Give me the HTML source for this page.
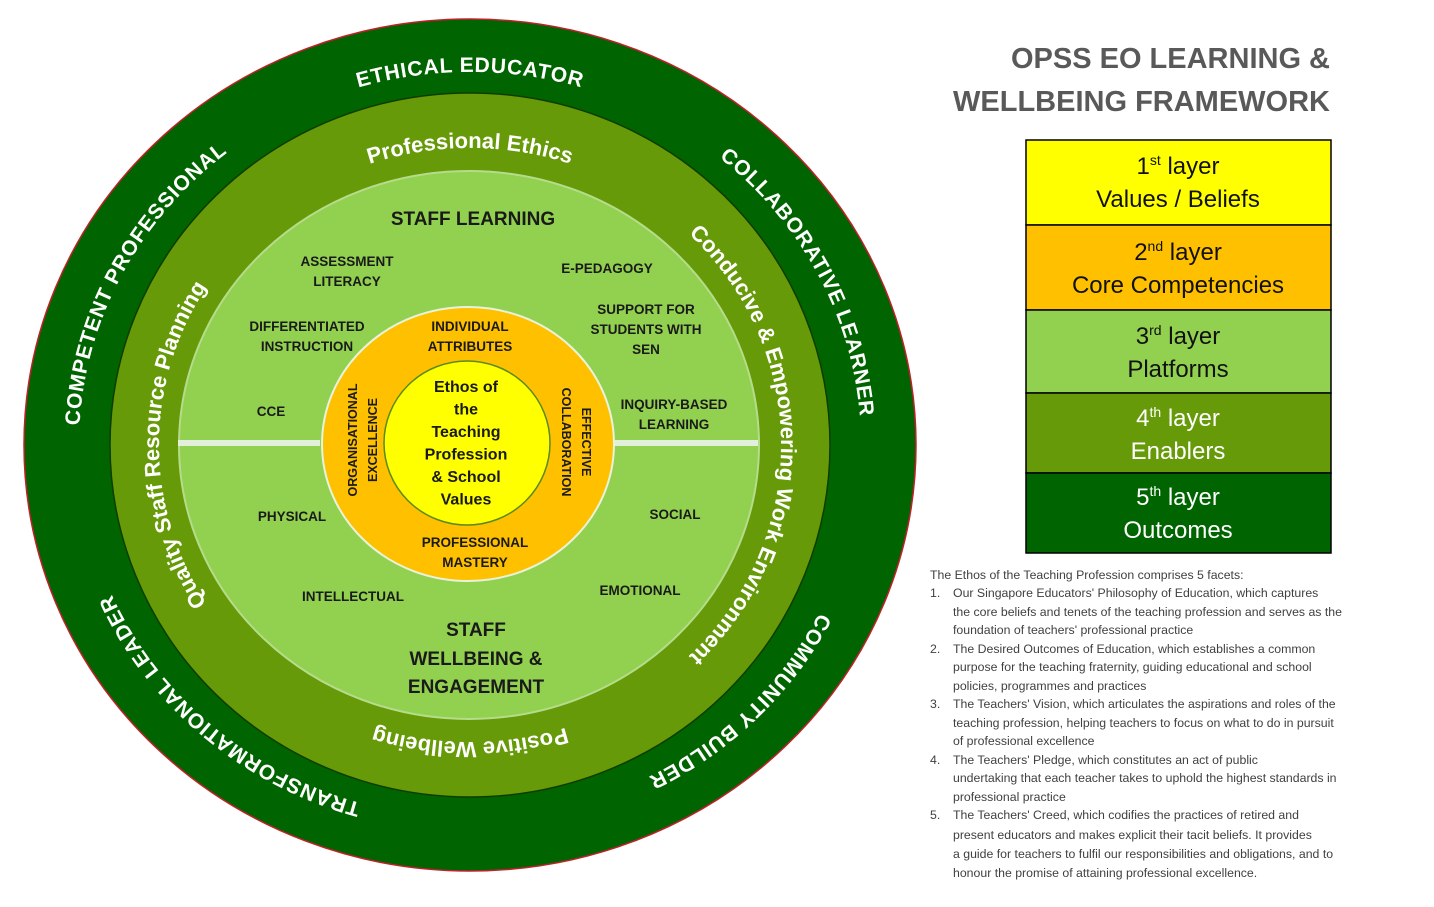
<!DOCTYPE html>
<html><head><meta charset="utf-8"><style>
html,body{margin:0;padding:0;background:#fff;width:1434px;height:907px;overflow:hidden}
svg{display:block;font-family:"Liberation Sans",sans-serif}
.c{font-weight:bold;fill:#1a1a1a;font-size:13.5px;text-anchor:middle}
.lg{font-size:24px;text-anchor:middle;fill:#111}
.p{font-size:12.3px;fill:#404040}
</style></head><body>
<svg width="1434" height="907" viewBox="0 0 1434 907">
<defs>
<path id="outerB" d="M470,818 A391,373 0 1 1 470,72 A391,373 0 1 1 470,818"/>
<path id="ringB" d="M470,742 A311,297 0 1 1 470,148 A311,297 0 1 1 470,742"/>
<path id="ringT" d="M470,148 A311,297 0 1 1 470,742 A311,297 0 1 1 470,148"/>
</defs>
<g>
<ellipse cx="470" cy="445" rx="446" ry="426" fill="#006400" stroke="#c0202a" stroke-width="1.5"/>
<ellipse cx="470" cy="445" rx="360" ry="352" fill="#669a08" stroke="#0f3d00" stroke-width="1.5"/>
<ellipse cx="469" cy="445" rx="290" ry="274" fill="#92d050" stroke="#b5dc8a" stroke-width="2"/>
<rect x="178" y="440" width="142" height="6" fill="#e2efda"/>
<rect x="612" y="440" width="146" height="6" fill="#e2efda"/>
<ellipse cx="468" cy="444" rx="146" ry="137" fill="#ffc000" stroke="#e8f3dd" stroke-width="2"/>
<ellipse cx="467" cy="443" rx="83" ry="82" fill="#ffff00" stroke="#5a8a1a" stroke-width="1.5"/>

<g fill="#fff" font-weight="bold" font-size="21px" letter-spacing="0.8">
<text><textPath href="#outerB" startOffset="50%" text-anchor="middle">ETHICAL EDUCATOR</textPath></text>
<text><textPath href="#outerB" startOffset="67.5%" text-anchor="middle">COLLABORATIVE LEARNER</textPath></text>
<text><textPath href="#outerB" startOffset="87.3%" text-anchor="middle">COMMUNITY BUILDER</textPath></text>
<text><textPath href="#outerB" startOffset="11.6%" text-anchor="middle">TRANSFORMATIONAL LEADER</textPath></text>
<text><textPath href="#outerB" startOffset="32.5%" text-anchor="middle">COMPETENT PROFESSIONAL</textPath></text>
</g>
<g fill="#fff" font-weight="bold" font-size="22px">
<text><textPath href="#ringB" startOffset="50%" text-anchor="middle">Professional Ethics</textPath></text>
<text><textPath href="#ringB" startOffset="75%" text-anchor="middle">Conducive &amp; Empowering Work Environment</textPath></text>
<text><textPath href="#ringT" startOffset="50%" text-anchor="middle">Positive Wellbeing</textPath></text>
<text><textPath href="#ringB" startOffset="25%" text-anchor="middle">Quality Staff Resource Planning</textPath></text>
</g>

<text class="c" x="473" y="225" style="font-size:19px">STAFF LEARNING</text>
<text class="c" x="347" y="266">ASSESSMENT<tspan x="347" dy="20">LITERACY</tspan></text>
<text class="c" x="607" y="273">E-PEDAGOGY</text>
<text class="c" x="307" y="331">DIFFERENTIATED<tspan x="307" dy="20">INSTRUCTION</tspan></text>
<text class="c" x="646" y="314">SUPPORT FOR<tspan x="646" dy="20">STUDENTS WITH</tspan><tspan x="646" dy="20">SEN</tspan></text>
<text class="c" x="271" y="416">CCE</text>
<text class="c" x="674" y="409">INQUIRY-BASED<tspan x="674" dy="20">LEARNING</tspan></text>
<text class="c" x="292" y="521">PHYSICAL</text>
<text class="c" x="675" y="519">SOCIAL</text>
<text class="c" x="353" y="601">INTELLECTUAL</text>
<text class="c" x="640" y="595">EMOTIONAL</text>
<text class="c" x="476" y="636" style="font-size:19px">STAFF<tspan x="476" dy="29">WELLBEING &amp;</tspan><tspan x="476" dy="28">ENGAGEMENT</tspan></text>

<text class="c" x="470" y="331">INDIVIDUAL<tspan x="470" dy="20">ATTRIBUTES</tspan></text>
<text class="c" x="475" y="547">PROFESSIONAL<tspan x="475" dy="20">MASTERY</tspan></text>
<text class="c" transform="translate(357,440) rotate(-90)" style="font-size:12.5px">ORGANISATIONAL<tspan x="0" dy="20">EXCELLENCE</tspan></text>
<text class="c" transform="translate(582,442) rotate(90)" style="font-size:12.5px">EFFECTIVE<tspan x="0" dy="20">COLLABORATION</tspan></text>
<text class="c" x="466" y="392" style="font-size:16px">Ethos of<tspan x="466" dy="22.5">the</tspan><tspan x="466" dy="22.5">Teaching</tspan><tspan x="466" dy="22.5">Profession</tspan><tspan x="466" dy="22.5">&amp; School</tspan><tspan x="466" dy="22.5">Values</tspan></text>
</g>

<g font-weight="bold" font-size="29px" fill="#595959" text-anchor="end">
<text x="1330" y="68">OPSS EO LEARNING &amp;</text>
<text x="1330" y="111">WELLBEING FRAMEWORK</text>
</g>

<g stroke="#000" stroke-width="1.5">
<rect x="1026" y="140" width="305" height="85" fill="#ffff00"/>
<rect x="1026" y="225" width="305" height="85" fill="#ffc000"/>
<rect x="1026" y="310" width="305" height="83" fill="#92d050"/>
<rect x="1026" y="393" width="305" height="80" fill="#669a08"/>
<rect x="1026" y="473" width="305" height="80" fill="#006400"/>
</g>
<g font-family="Liberation Sans,sans-serif">
<text class="lg" x="1178" y="174">1<tspan font-size="14" dy="-9">st</tspan><tspan dy="9"> layer</tspan><tspan x="1178" dy="33">Values / Beliefs</tspan></text>
<text class="lg" x="1178" y="260">2<tspan font-size="14" dy="-9">nd</tspan><tspan dy="9"> layer</tspan><tspan x="1178" dy="33">Core Competencies</tspan></text>
<text class="lg" x="1178" y="344">3<tspan font-size="14" dy="-9">rd</tspan><tspan dy="9"> layer</tspan><tspan x="1178" dy="33">Platforms</tspan></text>
<text class="lg" x="1178" y="426" style="fill:#fff">4<tspan font-size="14" dy="-9">th</tspan><tspan dy="9"> layer</tspan><tspan x="1178" dy="33">Enablers</tspan></text>
<text class="lg" x="1178" y="505" style="fill:#fff">5<tspan font-size="14" dy="-9">th</tspan><tspan dy="9"> layer</tspan><tspan x="1178" dy="33">Outcomes</tspan></text>
</g>

<g class="p">
<text class="p" x="930" y="579">The Ethos of the Teaching Profession comprises 5 facets:</text>
<text class="p" x="930" y="597">1.</text><text class="p" x="953" y="597">Our Singapore Educators' Philosophy of Education, which captures</text>
<text class="p" x="953" y="616">the core beliefs and tenets of the teaching profession and serves as the</text>
<text class="p" x="953" y="634">foundation of teachers' professional practice</text>
<text class="p" x="930" y="653">2.</text><text class="p" x="953" y="653">The Desired Outcomes of Education, which establishes a common</text>
<text class="p" x="953" y="671">purpose for the teaching fraternity, guiding educational and school</text>
<text class="p" x="953" y="690">policies, programmes and practices</text>
<text class="p" x="930" y="708">3.</text><text class="p" x="953" y="708">The Teachers' Vision, which articulates the aspirations and roles of the</text>
<text class="p" x="953" y="727">teaching profession, helping teachers to focus on what to do in pursuit</text>
<text class="p" x="953" y="745">of professional excellence</text>
<text class="p" x="930" y="764">4.</text><text class="p" x="953" y="764">The Teachers' Pledge, which constitutes an act of public</text>
<text class="p" x="953" y="782">undertaking that each teacher takes to uphold the highest standards in</text>
<text class="p" x="953" y="801">professional practice</text>
<text class="p" x="930" y="819">5.</text><text class="p" x="953" y="819">The Teachers' Creed, which codifies the practices of retired and</text>
<text class="p" x="953" y="839">present educators and makes explicit their tacit beliefs. It provides</text>
<text class="p" x="953" y="858">a guide for teachers to fulfil our responsibilities and obligations, and to</text>
<text class="p" x="953" y="877">honour the promise of attaining professional excellence.</text>
</g>
</svg>
</body></html>
